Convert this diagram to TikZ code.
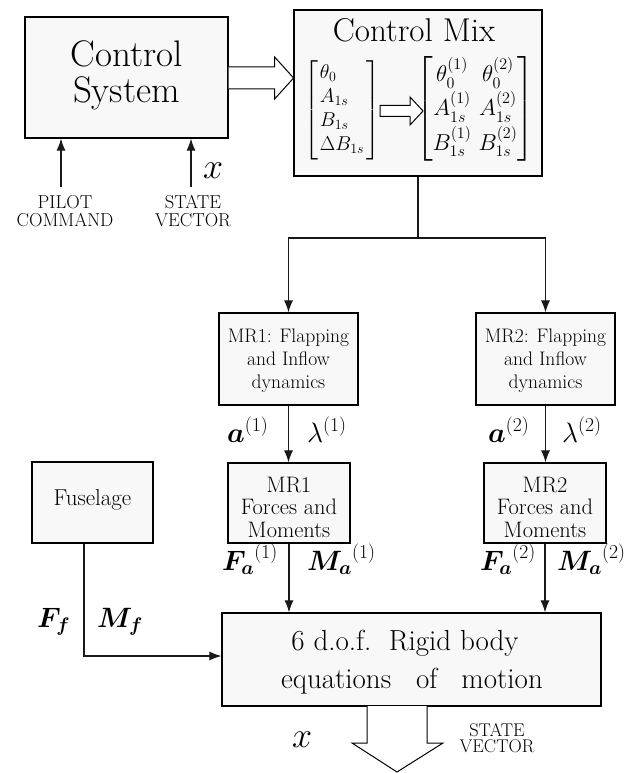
\RequirePackage{fix-cm}
\documentclass[tikz,border=0pt]{standalone}
\usepackage{amsmath,bm}
\usepackage{fontspec}
\usetikzlibrary{arrows.meta,calc}
\definecolor{boxfill}{HTML}{F8F8F8}
\newcommand{\fs}[1]{\fontsize{#1}{1.2\dimexpr #1pt\relax}\selectfont}
\begin{document}
\begin{tikzpicture}[x=1pt,y=-1pt,
  box/.style={draw=black, line width=1.2pt, fill=boxfill, inner sep=0pt},
  txt/.style={inner sep=0pt, outer sep=0pt},
  conn/.style={draw=black!90, line width=1.05pt},
  arr/.style={conn, -{Latex[length=12pt,width=9pt]}},
  blockarrow/.style={draw=black, line width=1pt, fill=white, line join=miter},
  lbl/.style={inner sep=0pt, anchor=base west, font=\fs{28}},
]
\useasboundingbox (0,0) rectangle (632,773);

% boxes
\node[box, minimum width=203pt, minimum height=121pt] (cs) at (126.5,77.5) {};
\node[txt, align=center, font=\fontsize{37}{36}\selectfont] (cstxt) at (126.5,75) {Control\\System};

\node[box, minimum width=248pt, minimum height=166pt] (mix) at (418,93) {};
\node[txt, anchor=base, font=\fs{33}] (mixtitle) at (414,42) {Control Mix};

\node[txt, font=\fontsize{20}{24}\selectfont] (lmat) at (342,110)
  {$\setlength{\arraycolsep}{2pt}\renewcommand{\arraystretch}{1.0}\left[\begin{array}{l}\theta_0\\ A_{1s}\\ B_{1s}\\ \Delta B_{1s}\end{array}\right]$};
\node[txt, font=\fontsize{23}{26}\selectfont] (rmat) at (475,109)
  {$\renewcommand{\arraystretch}{1.3}\left[\begin{array}{@{}c@{\hspace{7pt}}c@{}}\theta_0^{(1)} & \theta_0^{(2)}\\ A_{1s}^{(1)} & A_{1s}^{(2)}\\ B_{1s}^{(1)} & B_{1s}^{(2)}\end{array}\right]$};

\node[box, minimum width=139pt, minimum height=92pt] (mr1f) at (288.5,359) {};
\node[txt, align=center, font=\fontsize{19.6}{23}\selectfont] (mr1ftxt) at (288.5,361) {MR1: Flapping\\and Inflow\\dynamics};
\node[box, minimum width=139pt, minimum height=92pt] (mr2f) at (545.5,359) {};
\node[txt, align=center, font=\fontsize{19.6}{23}\selectfont] (mr2ftxt) at (545.5,361) {MR2: Flapping\\and Inflow\\dynamics};

\node[box, minimum width=121pt, minimum height=81pt] (fus) at (92.5,502.5) {};
\node[txt, font=\fs{23}] (fustxt) at (92.5,500) {Fuselage};

\node[box, minimum width=122pt, minimum height=80pt] (mr1m) at (289,503) {};
\node[txt, align=center, font=\fontsize{22.4}{22.5}\selectfont] (mr1mtxt) at (289,507) {MR1\\Forces and\\Moments};
\node[box, minimum width=122pt, minimum height=80pt] (mr2m) at (545,503) {};
\node[txt, align=center, font=\fontsize{22.4}{22.5}\selectfont] (mr2mtxt) at (545,507) {MR2\\Forces and\\Moments};

\node[box, minimum width=379pt, minimum height=93pt] (eom) at (411.5,659.5) {};
\node[txt, anchor=base, font=\fs{29}] (eom1) at (405,650) {6 d.o.f.\ \ Rigid body};
\node[txt, anchor=base, font=\fs{29}] (eom2) at (412,688) {equations\hspace{25pt}of\hspace{24pt}motion};

% inputs to control system
\coordinate (pilot) at (61,187);
\coordinate (state) at (191,187);
\draw[arr] (pilot) -- (pilot |- cs.south);
\draw[arr] (state) -- (state |- cs.south);
\node[txt, align=center, font=\fontsize{18.7}{18}\selectfont] (pilottxt) at (65,211) {PILOT\\COMMAND};
\node[txt, align=center, font=\fontsize{18.7}{18}\selectfont] (statetxt) at (193,211) {STATE\\VECTOR};
\node[txt, anchor=base west, font=\fs{36}] (xtop) at (203,178) {$x$};

% block arrow control system -> control mix
\draw[blockarrow] ($(cs.east)+(0,-10.5)$) -- ++(46,0) -- ++(0,-10) -- ($(cs.east)+(65,0.5)$)
  -- ($(cs.east)+(46,21.5)$) -- ++(0,-10) -- ($(cs.east)+(0,11.5)$);

% inner block arrow in control mix
\draw[blockarrow] (380,105.5) -- (410,105.5) -- (410,97) -- (423,111) -- (410,125) -- (410,116.5) -- (380,116.5) -- cycle;

% control mix to rotors
\coordinate (split) at (mix.south |- 0,238);
\draw[conn] (mix.south) -- (split);
\draw[arr] (split) -| (mr1f.north);
\draw[arr] (split) -| (mr2f.north);

% rotor dynamics to forces
\draw[arr] (mr1f.south) -- (mr1f.south |- mr1m.north);
\draw[arr] (mr2f.south) -- (mr2f.south |- mr2m.north);
\node[lbl] (a1) at (227,442) {$\bm{a}^{(1)}$};
\node[lbl] (l1) at (307,442) {$\lambda^{(1)}$};
\node[lbl] (a2) at (488,442) {$\bm{a}^{(2)}$};
\node[lbl] (l2) at (562,442) {$\lambda^{(2)}$};

% forces to eom
\draw[arr] (mr1m.south) -- (mr1m.south |- eom.north);
\draw[arr] (mr2m.south) -- (mr2m.south |- eom.north);
\node[lbl] (f1) at (222,570) {${\bm{F_a}}^{(1)}$};
\node[lbl] (m1) at (307,570) {${\bm{M_a}}^{(1)}$};
\node[lbl] (f2) at (480,570) {${\bm{F_a}}^{(2)}$};
\node[lbl] (m2) at (557,570) {${\bm{M_a}}^{(2)}$};

% fuselage to eom
\draw[arr] ($(fus.south)+(-8.5,0)$) |- ($(eom.west)+(0,-3.5)$);
\node[lbl] (ff) at (37,627) {$\bm{F_f}$};
\node[lbl] (mf) at (97,627) {$\bm{M_f}$};

% output block arrow
\draw[blockarrow] (367,706) -- (367,743) -- (352,743) -- (397,772) -- (443,743) -- (427,743) -- (427,706);
\node[txt, anchor=base west, font=\fs{36}] (xbot) at (292,747) {$x$};
\node[txt, align=center, font=\fontsize{18.4}{16}\selectfont] (statebot) at (497,738) {STATE\\VECTOR};
\end{tikzpicture}
\end{document}
